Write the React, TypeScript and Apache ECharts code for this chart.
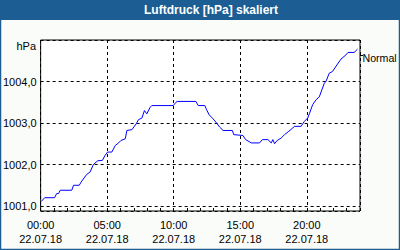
import React, { useEffect, useRef } from "react";
import * as echarts from "echarts";

const titleText = "Luftdruck [hPa] skaliert";
const unitText = "hPa";
const seriesName = "Normal";
const dateLabel = "22.07.18";

// time in hours since 00:00 on 22.07.18
const hours = [
  0.05, 0.3, 1.05, 1.2, 1.35, 1.47, 2.34, 2.47, 2.9, 3.09, 3.46, 3.72, 3.96, 4.29, 4.64, 4.84,
  5.03, 5.35, 5.61, 5.86, 6.04, 6.36, 6.48, 6.86, 7.18, 7.35, 7.61, 7.8, 7.98, 8.23, 8.35, 9.97,
  10.17, 10.27, 11.67, 11.84, 12.34, 12.47, 12.66, 12.96, 13.22, 13.46, 13.71, 14.41, 14.51, 15.2,
  15.41, 15.83, 16.45, 16.66, 17.08, 17.33, 17.45, 17.58, 17.78, 18.08, 18.33, 18.65, 18.95, 19.07,
  19.57, 19.82, 20.07, 20.19, 20.44, 20.7, 20.94, 21.32, 21.44, 21.69, 21.93, 22.31, 22.57, 22.94,
  23.1, 23.56, 23.81,
];
// air pressure in hPa
const pressure = [
  1001.11, 1001.2, 1001.2, 1001.3, 1001.3, 1001.38, 1001.38, 1001.5, 1001.5, 1001.6, 1001.76,
  1001.82, 1002.0, 1002.09, 1002.1, 1002.22, 1002.3, 1002.3, 1002.46, 1002.52, 1002.58, 1002.62,
  1002.82, 1002.84, 1002.98, 1003.08, 1003.12, 1003.3, 1003.22, 1003.38, 1003.42, 1003.42, 1003.5,
  1003.52, 1003.52, 1003.42, 1003.42, 1003.32, 1003.2, 1003.1, 1003.0, 1002.9, 1002.82, 1002.82,
  1002.72, 1002.7, 1002.6, 1002.52, 1002.52, 1002.6, 1002.6, 1002.52, 1002.6, 1002.5, 1002.58,
  1002.64, 1002.72, 1002.8, 1002.88, 1002.92, 1002.92, 1003.04, 1003.12, 1003.22, 1003.44,
  1003.56, 1003.63, 1003.96, 1004.0, 1004.2, 1004.24, 1004.42, 1004.54, 1004.64, 1004.7, 1004.7,
  1004.78,
];

const xMin = 0;
const xMax = 24;
const yMin = 1000.88;
const yMax = 1005;

const FONT = "'Liberation Sans', Arial, sans-serif";
const BLUE = "#1c5e94";

export default function App() {
  const ref = useRef<HTMLDivElement>(null);
  useEffect(() => {
    document.body.style.margin = "0";
    if (!ref.current) return;
    const chart = echarts.init(ref.current, undefined, { renderer: "svg" });
    const data = hours.map((h, i) => [h, pressure[i]]);
    chart.setOption({
      animation: false,
      backgroundColor: "#fafcfa",
      textStyle: { fontFamily: FONT },
      grid: {
        left: 40,
        right: 40,
        top: 40,
        bottom: 39,
        show: true,
        backgroundColor: "#ffffff",
        borderColor: "#000000",
        borderWidth: 1,
      },
      xAxis: [
        {
          type: "value",
          min: xMin,
          max: xMax,
          interval: 5,
          axisLine: { show: false },
          axisTick: { show: false },
          splitLine: { show: true, lineStyle: { color: "#000", type: [3, 3], width: 1 } },
          axisLabel: {
            color: "#000",
            fontSize: 11,
            fontFamily: FONT,
            lineHeight: 14,
            margin: 7,
            formatter: (v: number) =>
              v % 5 === 0 && v < 24 ? `${String(v).padStart(2, "0")}:00\n${dateLabel}` : "",
          },
        },
        {
          type: "value",
          min: xMin,
          max: xMax,
          interval: 1,
          position: "bottom",
          axisLine: { show: false },
          axisTick: { show: true, inside: true, length: 3, lineStyle: { color: "#000" } },
          axisLabel: { show: false },
          splitLine: { show: false },
        },
      ],
      yAxis: {
        type: "value",
        min: yMin,
        max: yMax,
        splitNumber: 4,
        axisLine: { show: false },
        axisTick: { show: false },
        splitLine: { show: true, lineStyle: { color: "#000", type: [3, 3], width: 1 } },
        axisLabel: {
          color: "#000",
          fontSize: 11,
          fontFamily: FONT,
          margin: 4,
          formatter: (v: number) =>
            Math.abs(v - Math.round(v)) < 1e-6 && v < 1004.5 && v > 1000.95
              ? v.toFixed(1).replace(".", ",")
              : "",
        },
      },
      series: [
        {
          name: seriesName,
          type: "line",
          xAxisIndex: 0,
          data,
          showSymbol: false,
          lineStyle: { color: "#0000ff", width: 1 },
        },
      ],
      graphic: [
        { type: "rect", shape: { x: 0, y: 0, width: 400, height: 20 }, style: { fill: BLUE } },
        {
          type: "text",
          x: 211,
          y: 10,
          style: {
            text: titleText,
            fill: "#ffffff",
            font: `bold 12px ${FONT}`,
            textAlign: "center",
            textVerticalAlign: "middle",
          },
        },
        {
          type: "text",
          x: 36,
          y: 46,
          style: {
            text: unitText,
            fill: "#000",
            font: `11px ${FONT}`,
            textAlign: "right",
            textVerticalAlign: "middle",
          },
        },
        {
          type: "line",
          shape: { x1: 360, y1: 55.5, x2: 363, y2: 55.5 },
          style: { stroke: "#000", lineWidth: 1 },
        },
        {
          type: "text",
          x: 362.5,
          y: 58,
          style: {
            text: seriesName,
            fill: "#000",
            font: `10.6px ${FONT}`,
            textAlign: "left",
            textVerticalAlign: "middle",
          },
        },
        {
          type: "rect",
          shape: { x: 0.5, y: 0.5, width: 399, height: 249 },
          style: { fill: "none", stroke: BLUE, lineWidth: 1.5 },
        },
      ],
    });
    return () => chart.dispose();
  }, []);
  return <div ref={ref} style={{ width: 400, height: 250 }} />;
}
